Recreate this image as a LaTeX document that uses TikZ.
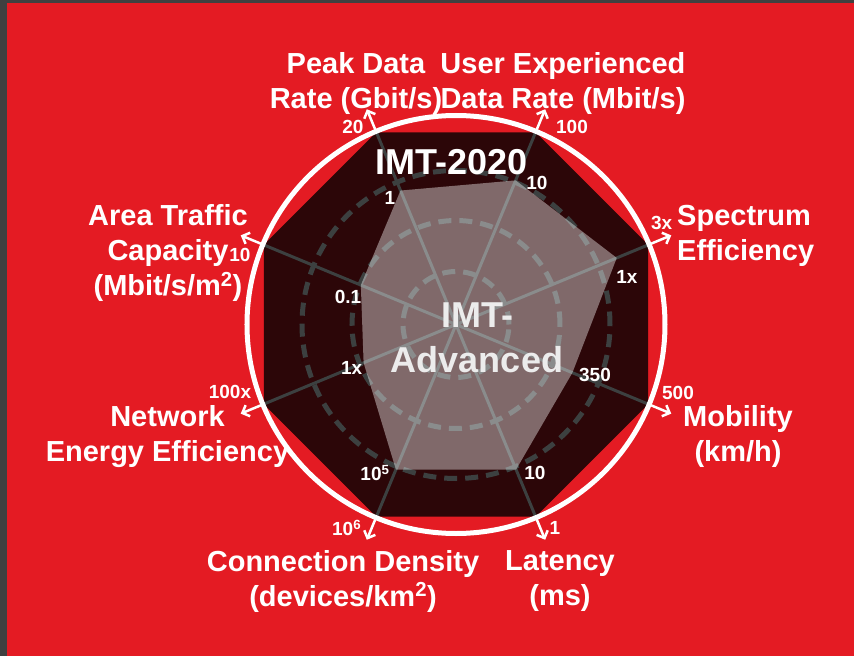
\documentclass[tikz,border=0pt]{standalone}
\usepackage{fontspec}
\setmainfont{Liberation Sans}
\usetikzlibrary{arrows.meta}
\definecolor{bgred}{RGB}{228,27,35}
\definecolor{darkoct}{RGB}{44,6,8}
\definecolor{gridgray}{RGB}{60,64,64}
\definecolor{framegray}{RGB}{64,64,64}
\definecolor{advgray}{RGB}{236,236,236}
\begin{document}
\begin{tikzpicture}[
  x=1pt,y=1pt,
  axis/.style={draw=gridgray,line width=3pt},
  ring/.style={draw=gridgray,line width=5pt,dash pattern=on 13pt off 8pt},
  outarrow/.style={draw=white,line width=2.5pt,-{Straight Barb[length=6pt,width=12pt]}},
  title/.style={text=white,font=\fontsize{29}{35}\selectfont\bfseries,align=center,inner sep=0pt},
  value/.style={text=white,font=\fontsize{19}{22}\selectfont\bfseries,inner sep=0pt}
]
% --- Background ---
\useasboundingbox (-456,-331.5) rectangle (398,324.5);
\fill[bgred] (-456,-331.5) rectangle (398,324.5);
\fill[framegray] (-456,321.2) rectangle (398,324.5);
\fill[framegray] (-456,-331.5) rectangle (-448.7,324.5);

% --- Coordinates: centre, octagon corners, arrow tips ---
\coordinate (c) at (0,0);
\coordinate (o1) at (112.5:208);  \coordinate (t1) at (112.5:233);
\coordinate (o2) at (67.5:208);   \coordinate (t2) at (67.5:233);
\coordinate (o3) at (22.5:208);   \coordinate (t3) at (22.5:233);
\coordinate (o4) at (-22.5:208);  \coordinate (t4) at (-22.5:233);
\coordinate (o5) at (-67.5:208);  \coordinate (t5) at (-67.5:233);
\coordinate (o6) at (-112.5:208); \coordinate (t6) at (-112.5:233);
\coordinate (o7) at (-157.5:208); \coordinate (t7) at (-157.5:233);
\coordinate (o8) at (157.5:208);  \coordinate (t8) at (157.5:233);

% --- IMT-2020 octagon ---
\fill[darkoct] (o1) -- (o2) -- (o3) -- (o4) -- (o5) -- (o6) -- (o7) -- (o8) -- cycle;

% spokes
\draw[axis] (c) -- (o1) (c) -- (o2) (c) -- (o3) (c) -- (o4)
            (c) -- (o5) (c) -- (o6) (c) -- (o7) (c) -- (o8);

% dashed rings
\draw[ring] (c) circle (53);
\draw[ring] (c) circle (104);
\draw[ring] (c) circle (154);

% --- IMT-Advanced area ---
\fill[white,opacity=.4] (112.5:145) -- (67.5:156) -- (22.5:174) -- (-22.5:126)
  -- (-67.5:157) -- (-112.5:157) -- (-157.5:100) -- (157.5:103) -- cycle;

% outer circle
\draw[white,line width=5pt] (c) circle (209);

% --- Arrows ---
\draw[outarrow] (o1) -- (t1);
\draw[outarrow] (o2) -- (t2);
\draw[outarrow] (o3) -- (t3);
\draw[outarrow] (o4) -- (t4);
\draw[outarrow] (o5) -- (t5);
\draw[outarrow] (o6) -- (t6);
\draw[outarrow] (o7) -- (t7);
\draw[outarrow] (o8) -- (t8);

% --- Axis titles ---
\node[title] (peak)   at (-100,241)   {Peak Data\\Rate (Gbit/s)};
\node[title] (user)   at (107,241)    {User Experienced\\Data Rate (Mbit/s)};
\node[title,align=left,anchor=west] (spec) at (221,88.5) {Spectrum\\Efficiency};
\node[title] (mob)    at (282,-112.2) {Mobility\\(km/h)};
\node[title] (lat)    at (104,-256.5) {Latency\\(ms)};
\node[title] (conn)   at (-113,-256.5) {Connection Density\\(devices/km\textsuperscript{2})};
\node[title] (energy) at (-288.5,-112.5) {Network\\Energy Efficiency};
\node[title] (area)   at (-288,71)    {Area Traffic\\Capacity\\(Mbit/s/m\textsuperscript{2})};

% --- IMT-2020 values ---
\node[value] (peakMax)   at (-103,197.5)  {20};
\node[value] (userMax)   at (116,197.5)   {100};
\node[value] (specMax)   at (205.7,101.5) {3x};
\node[value] (mobMax)    at (222,-68.5)   {500};
\node[value] (latMax)    at (99,-203.5)   {1};
\node[value] (connMax)   at (-109.3,-203.5) {10\textsuperscript{6}};
\node[value] (energyMax) at (-226,-67.2)  {100x};
\node[value] (areaMax)   at (-216,69.5)   {10};

% --- IMT-Advanced values ---
\node[value] (peakAdv)   at (-66,126.5)   {1};
\node[value] (userAdv)   at (81,141.5)    {10};
\node[value] (specAdv)   at (171,47.5)    {1x};
\node[value] (mobAdv)    at (139,-50.5)   {350};
\node[value] (latAdv)    at (79,-148.2)   {10};
\node[value] (connAdv)   at (-81,-148.2)  {10\textsuperscript{5}};
\node[value] (energyAdv) at (-104.3,-43.8) {1x};
\node[value] (areaAdv)   at (-108,27.8)   {0.1};

% --- Set names ---
\node[text=white,font=\fontsize{36}{45}\selectfont\bfseries,inner sep=0pt] (imt2020) at (-4.3,162.8) {IMT-2020};
\node[text=advgray,font=\fontsize{36}{45}\selectfont\bfseries,align=center,inner sep=0pt] (imtadv) at (21,-13) {IMT-\\Advanced};
\end{tikzpicture}
\end{document}
